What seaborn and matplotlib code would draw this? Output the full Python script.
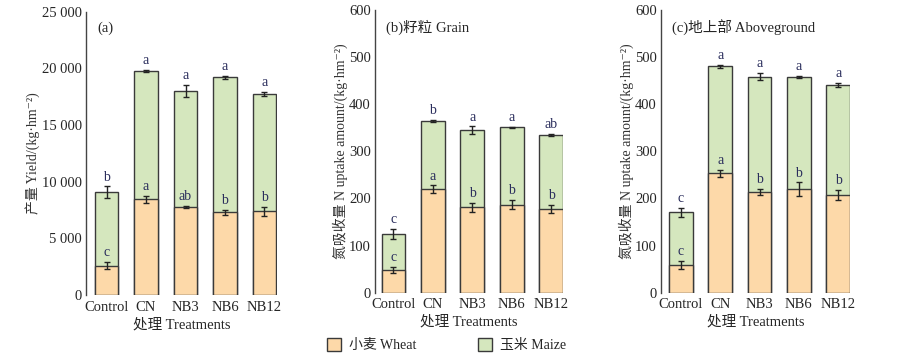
import numpy as np
import pandas as pd
import matplotlib
matplotlib.use("Agg")
import matplotlib.pyplot as plt
import seaborn as sns
from matplotlib.patches import Patch
from matplotlib.ticker import FuncFormatter

# data
treatments = ["Control", "CN", "NB3", "NB6", "NB12"]

# (a) yield, kg/hm2
yield_wheat = [2600, 8470, 7790, 7300, 7390]
yield_maize = [6460, 11300, 10210, 11910, 10380]
yield_wheat_err = [300, 310, 100, 200, 400]
yield_total_err = [520, 100, 520, 120, 190]
yield_wheat_sig = ["c", "a", "ab", "b", "b"]
yield_total_sig = ["b", "a", "a", "a", "a"]

# (b) grain N uptake
grain_wheat = [48, 220, 181, 187, 178]
grain_maize = [76.6, 144, 164, 164, 156]
grain_wheat_err = [6.4, 7.8, 9.5, 10, 9]
grain_total_err = [10, 2.5, 8, 1.5, 2.5]
grain_wheat_sig = ["c", "a", "b", "b", "b"]
grain_total_sig = ["c", "b", "a", "a", "ab"]

# (c) aboveground N uptake
above_wheat = [59, 253, 214, 220, 208]
above_maize = [111.6, 227.5, 244.4, 237.8, 232.5]
above_wheat_err = [8, 8, 6.4, 14, 10.6]
above_total_err = [9, 3, 8, 2, 4.3]
above_wheat_sig = ["c", "a", "b", "b", "b"]
above_total_sig = ["c", "a", "a", "a", "a"]

wheat_col = "#FDD9A9"
maize_col = "#D5E7BE"
edge_col = "#3a3a3a"
sig_col = "#2a2d5c"

sns.set_theme(style="white")
plt.rcParams["font.family"] = ["Liberation Serif", "Noto Sans CJK SC", "DejaVu Serif"]

fig = plt.figure(figsize=(8.97, 3.58), dpi=100)

panels = [
    # axes rect, xlim, ymax, ytick step, title, ylabel, data...
    ([0.0959, 0.176, 0.213, 0.791], (-0.52, 4.32), 25000, 5000, "(a)",
     "产量 Yield/(kg·hm⁻²)",
     yield_wheat, yield_maize, yield_wheat_err, yield_total_err, yield_wheat_sig, yield_total_sig),
    ([0.418, 0.1824, 0.2096, 0.790], (-0.47, 4.30), 600, 100, "(b)籽粒 Grain",
     "氮吸收量 N uptake amount/(kg·hm⁻²)",
     grain_wheat, grain_maize, grain_wheat_err, grain_total_err, grain_wheat_sig, grain_total_sig),
    ([0.737, 0.1824, 0.2107, 0.790], (-0.50, 4.30), 600, 100, "(c)地上部 Aboveground",
     "氮吸收量 N uptake amount/(kg·hm⁻²)",
     above_wheat, above_maize, above_wheat_err, above_total_err, above_wheat_sig, above_total_sig),
]

for rect, xlim, ymax, step, title, ylabel, wheat, maize, w_err, t_err, w_sig, t_sig in panels:
    ax = fig.add_axes(rect)
    total = [w + m for w, m in zip(wheat, maize)]
    df = pd.DataFrame({"Treatment": treatments, "wheat": wheat, "total": total})

    # stacked bars: total (maize on top) first, wheat over it
    sns.barplot(data=df, x="Treatment", y="total", color=maize_col, saturation=1,
                edgecolor=edge_col, linewidth=1.0, width=0.6, ax=ax)
    sns.barplot(data=df, x="Treatment", y="wheat", color=wheat_col, saturation=1,
                edgecolor=edge_col, linewidth=1.0, width=0.6, ax=ax)

    xs = np.arange(len(treatments))
    ax.errorbar(xs, wheat, yerr=w_err, fmt="none", ecolor="#222222", elinewidth=1, capsize=2.5, capthick=1)
    ax.errorbar(xs, total, yerr=t_err, fmt="none", ecolor="#222222", elinewidth=1, capsize=2.5, capthick=1)

    for x, w, e, s in zip(xs, wheat, w_err, w_sig):
        ax.annotate(s, (x, w + e), xytext=(0, 2), textcoords="offset points",
                    ha="center", va="bottom", fontsize=10, color=sig_col)
    for x, t, e, s in zip(xs, total, t_err, t_sig):
        ax.annotate(s, (x, t + e), xytext=(0, 2), textcoords="offset points",
                    ha="center", va="bottom", fontsize=10, color=sig_col)

    ax.set_xlim(*xlim)
    ax.set_ylim(0, ymax)
    ax.set_yticks(np.arange(0, ymax + 1, step))
    ax.yaxis.set_major_formatter(FuncFormatter(lambda v, p: f"{int(v):,}".replace(",", " ")))
    ax.set_xlabel("处理 Treatments", fontsize=10.5, labelpad=3)
    ax.set_ylabel(ylabel, fontsize=10, color="#333333", labelpad=1)
    ax.text(0.06, 0.965, title, transform=ax.transAxes, ha="left", va="top", fontsize=10.5)

    sns.despine(ax=ax, top=True, right=True, bottom=True)
    ax.spines["left"].set_color("#444444")
    ax.spines["left"].set_linewidth(1.0)
    ax.tick_params(axis="y", direction="in", length=4, width=1, color="#444444", labelsize=10.5, pad=3)
    ax.tick_params(axis="x", length=0, labelsize=10.5, pad=4)

handles = [Patch(facecolor=wheat_col, edgecolor=edge_col, label="小麦 Wheat"),
           Patch(facecolor=maize_col, edgecolor=edge_col, label="玉米 Maize")]
fig.legend(handles=handles, loc="center", bbox_to_anchor=(0.498, 0.036), ncol=2,
           frameon=False, fontsize=10, handlelength=1.0, handleheight=1.0,
           columnspacing=4.4, handletextpad=0.6)

fig.savefig("out.png", dpi=100)
